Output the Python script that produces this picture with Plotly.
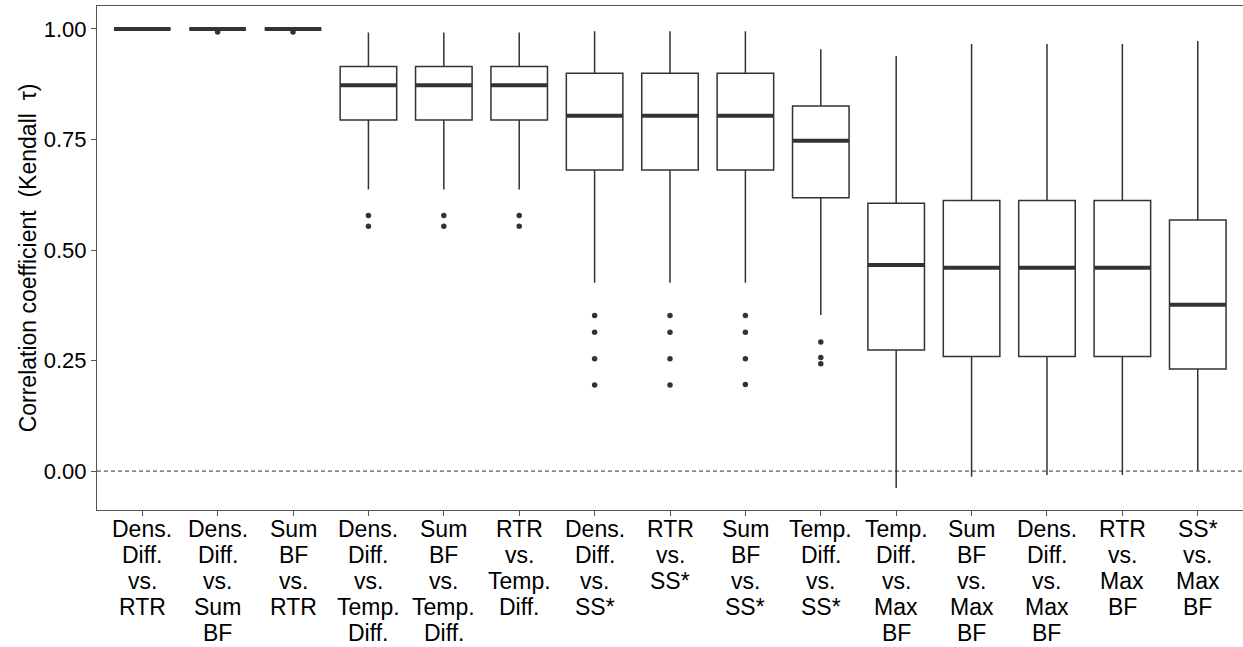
import plotly.graph_objects as go

categories = [
    "Dens. Diff. vs. RTR",
    "Dens. Diff. vs. Sum BF",
    "Sum BF vs. RTR",
    "Dens. Diff. vs. Temp. Diff.",
    "Sum BF vs. Temp. Diff.",
    "RTR vs. Temp. Diff.",
    "Dens. Diff. vs. SS*",
    "RTR vs. SS*",
    "Sum BF vs. SS*",
    "Temp. Diff. vs. SS*",
    "Temp. Diff. vs. Max BF",
    "Sum BF vs. Max BF",
    "Dens. Diff. vs. Max BF",
    "RTR vs. Max BF",
    "SS* vs. Max BF",
]

lower_whisker = [1.0, 1.0, 1.0, 0.637, 0.637, 0.637, 0.426, 0.426, 0.426, 0.353,
                 -0.038, -0.013, -0.009, -0.009, 0.001]
q1_vals = [1.0, 1.0, 1.0, 0.794, 0.794, 0.794, 0.681, 0.681, 0.681, 0.618,
           0.274, 0.259, 0.259, 0.259, 0.231]
median_vals = [1.0, 1.0, 1.0, 0.873, 0.873, 0.873, 0.804, 0.804, 0.804, 0.747,
               0.466, 0.460, 0.460, 0.460, 0.376]
q3_vals = [1.0, 1.0, 1.0, 0.915, 0.915, 0.915, 0.900, 0.900, 0.900, 0.826,
           0.606, 0.612, 0.612, 0.612, 0.568]
upper_whisker = [1.0, 1.0, 1.0, 0.992, 0.992, 0.992, 0.995, 0.995, 0.995, 0.954,
                 0.939, 0.966, 0.966, 0.966, 0.973]

outlier_cat_idx = [1, 2,
                   3, 3, 4, 4, 5, 5,
                   6, 6, 6, 6, 7, 7, 7, 7, 8, 8, 8, 8,
                   9, 9, 9]
outlier_vals = [0.993, 0.993,
                0.578, 0.554, 0.578, 0.554, 0.578, 0.554,
                0.352, 0.314, 0.254, 0.195,
                0.352, 0.314, 0.254, 0.195,
                0.352, 0.314, 0.254, 0.196,
                0.292, 0.257, 0.243]

y_ticks = [0.0, 0.25, 0.5, 0.75, 1.0]
y_ticklabels = ["0.00", "0.25", "0.50", "0.75", "1.00"]

FONT = "Liberation Sans, Arial, sans-serif"
DARK = "#333333"
AXIS = "#555555"
LABEL_SIZE = 23
LINE_STEP = 26

fig = go.Figure()

fig.add_hline(y=0, line=dict(color=DARK, width=1, dash="4px,3px"), layer="below")

fig.add_trace(go.Box(
    x=categories,
    q1=q1_vals, median=median_vals, q3=q3_vals,
    lowerfence=lower_whisker, upperfence=upper_whisker,
    boxpoints=False,
    fillcolor="white",
    line=dict(color=DARK, width=1.5),
    whiskerwidth=0,
    showlegend=False,
    hoverinfo="skip",
))

# thick median lines (degenerate boxes at the median)
fig.add_trace(go.Box(
    x=categories,
    q1=median_vals, median=median_vals, q3=median_vals,
    lowerfence=median_vals, upperfence=median_vals,
    boxpoints=False,
    fillcolor="rgba(0,0,0,0)",
    line=dict(color=DARK, width=4),
    whiskerwidth=0,
    showlegend=False,
    hoverinfo="skip",
))

fig.add_trace(go.Scatter(
    x=[categories[i] for i in outlier_cat_idx],
    y=outlier_vals,
    mode="markers",
    marker=dict(color=DARK, size=5.5),
    showlegend=False,
    hoverinfo="skip",
))

# multi-line category labels with tight line spacing (one annotation per line)
for cat in categories:
    for k, word in enumerate(cat.split()):
        fig.add_annotation(
            x=cat, xref="x", y=0, yref="paper",
            text=word, showarrow=False,
            xanchor="center", yanchor="top",
            yshift=-4 - LINE_STEP * k,
            font=dict(size=LABEL_SIZE, color="black", family=FONT),
        )

fig.update_layout(
    width=1243, height=647,
    margin=dict(l=97, r=0, t=6, b=137, autoexpand=False),
    paper_bgcolor="white",
    plot_bgcolor="white",
    boxmode="overlay",
    boxgap=0.25,
    boxgroupgap=0,
    font=dict(family=FONT, color="black", size=22),
)

fig.update_xaxes(
    type="category",
    categoryorder="array", categoryarray=categories,
    range=[-0.6, len(categories) - 0.4],
    showgrid=False, zeroline=False,
    showline=True, linecolor=AXIS, linewidth=1, mirror=True,
    ticks="outside", ticklen=5, tickcolor=AXIS,
    showticklabels=False,
    automargin=False,
)

fig.update_yaxes(
    range=[-0.088, 1.052],
    tickvals=y_ticks, ticktext=y_ticklabels,
    showgrid=False, zeroline=False,
    showline=True, linecolor=AXIS, linewidth=1, mirror=True,
    ticks="outside", ticklen=5, tickcolor=AXIS,
    tickfont=dict(size=22, color="black", family=FONT),
    title=dict(text="Correlation coefficient  (Kendall  \u03c4)",
               font=dict(size=23, color="black", family=FONT), standoff=0),
    automargin=False,
)

fig.write_html(
    "out.html",
    config={"displayModeBar": False},
    post_script="document.body.style.margin='0px';document.body.style.overflow='hidden';",
)
